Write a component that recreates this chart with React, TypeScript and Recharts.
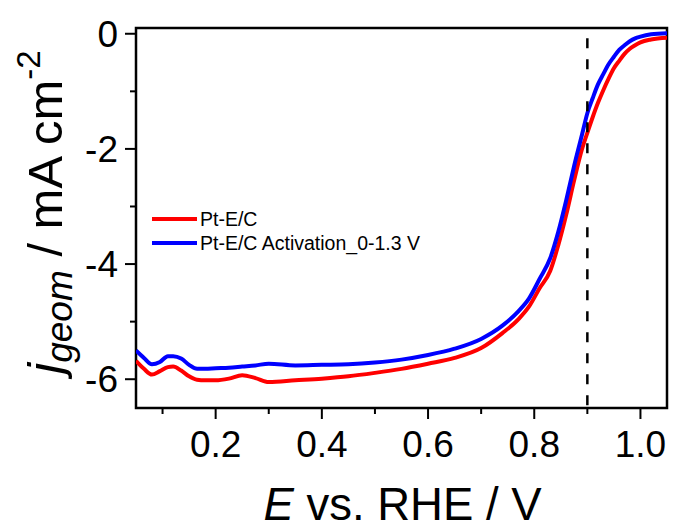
import React from 'react';
import { LineChart, Line, XAxis, YAxis, ReferenceLine, ReferenceArea, Legend } from 'recharts';

const voltage = [0.05, 0.065, 0.08, 0.095, 0.11, 0.12, 0.135, 0.15, 0.165, 0.18, 0.2, 0.225, 0.25, 0.275, 0.3, 0.35, 0.4, 0.45, 0.5, 0.55, 0.6, 0.65, 0.7, 0.74, 0.77, 0.79, 0.81, 0.83, 0.845, 0.86, 0.875, 0.89, 0.9, 0.91, 0.92, 0.93, 0.94, 0.95, 0.96, 0.97, 0.98, 0.99, 1.0, 1.02, 1.05];
const ptEC = [-5.68, -5.82, -5.92, -5.86, -5.79, -5.78, -5.85, -5.95, -6.01, -6.02, -6.02, -5.99, -5.93, -5.98, -6.05, -6.02, -5.99, -5.95, -5.89, -5.82, -5.73, -5.63, -5.46, -5.2, -4.96, -4.74, -4.42, -4.12, -3.68, -3.15, -2.55, -2.0, -1.72, -1.45, -1.2, -0.98, -0.78, -0.6, -0.47, -0.35, -0.26, -0.2, -0.15, -0.1, -0.07];
const ptECAct = [-5.5, -5.63, -5.74, -5.7, -5.6, -5.6, -5.64, -5.75, -5.82, -5.82, -5.81, -5.8, -5.78, -5.76, -5.73, -5.76, -5.75, -5.74, -5.71, -5.66, -5.58, -5.47, -5.3, -5.07, -4.82, -4.6, -4.26, -3.9, -3.45, -2.9, -2.3, -1.75, -1.38, -1.12, -0.88, -0.7, -0.53, -0.4, -0.28, -0.2, -0.13, -0.08, -0.05, -0.01, 0.01];

const xTicks = [0.1, 0.2, 0.3, 0.4, 0.5, 0.6, 0.7, 0.8, 0.9, 1.0];
const xLabelTicks = [0.2, 0.4, 0.6, 0.8, 1.0];
const yTicks = [0, -1, -2, -3, -4, -5, -6];
const yLabelTicks = [0, -2, -4, -6];

const seriesNames = ['Pt-E/C', 'Pt-E/C Activation_0-1.3 V'];
const seriesColors = ['#ff0000', '#0000ff'];

const data = voltage.map((v, i) => ({ v, a: ptEC[i], b: ptECAct[i] }));

const FONT = "Arial, 'Liberation Sans', Helvetica, sans-serif";

const XTick = (props: any) => {
  const { x, y, payload } = props;
  const v = payload.value;
  const major = xLabelTicks.some((t) => Math.abs(t - v) < 1e-6);
  return (
    <g>
      <line x1={x} x2={x} y1={y} y2={y + (major ? 11 : 6)} stroke="#000" strokeWidth={2} />
      {major && (
        <text x={x} y={y + 49} textAnchor="middle" fontSize={37} fill="#000" fontFamily={FONT}>
          {v.toFixed(1)}
        </text>
      )}
    </g>
  );
};

const YTick = (props: any) => {
  const { x, y, payload } = props;
  const v = payload.value;
  const major = yLabelTicks.some((t) => Math.abs(t - v) < 1e-6);
  return (
    <g>
      <line x1={x - (major ? 11 : 6)} x2={x} y1={y} y2={y} stroke="#000" strokeWidth={2} />
      {major && (
        <text x={x - 18} y={y + 13} textAnchor="end" fontSize={37} fill="#000" fontFamily={FONT}>
          {String(v)}
        </text>
      )}
    </g>
  );
};

const XTitle = (props: any) => {
  const vb = props.viewBox || { x: 136, y: 408, width: 531, height: 122 };
  return (
    <text x={vb.x + vb.width / 2 + 1} y={520} textAnchor="middle" fontSize={45.5} fill="#000" fontFamily={FONT}>
      <tspan fontStyle="italic">E</tspan>
      <tspan> vs. RHE / V</tspan>
    </text>
  );
};

const YTitle = (props: any) => {
  const vb = props.viewBox || { x: 0, y: 28, width: 136, height: 380 };
  const cx = 62;
  const cy = vb.y + vb.height / 2 - 6;
  return (
    <text x={cx} y={cy} transform={`rotate(-90, ${cx}, ${cy})`} textAnchor="middle" fontSize={49} fill="#000" fontFamily={FONT}>
      <tspan fontStyle="italic">j</tspan>
      <tspan fontStyle="italic" fontSize={37} dy={10}>geom</tspan>
      <tspan dy={-10}> / mA cm</tspan>
      <tspan fontSize={33} dy={-22}>-2</tspan>
    </text>
  );
};

const LegendContent = () => (
  <div style={{ fontFamily: FONT }}>
    {seriesNames.map((name, i) => (
      <div key={name} style={{ display: 'flex', alignItems: 'center', height: 24 }}>
        <svg width={50} height={24} style={{ display: 'block' }}>
          <line x1={2} x2={47} y1={12} y2={12} stroke={seriesColors[i]} strokeWidth={4} />
        </svg>
        <span style={{ fontSize: 19.5, lineHeight: '24px', color: '#000', whiteSpace: 'nowrap' }}>{name}</span>
      </div>
    ))}
  </div>
);

export default function App() {
  return (
    <div style={{ position: 'absolute', left: 0, top: 0, width: 674, height: 530, background: '#fff' }}>
      <LineChart width={674} height={530} data={data} margin={{ top: 28, right: 7, left: 0, bottom: 0 }}>
        <XAxis
          type="number"
          dataKey="v"
          domain={[0.05, 1.05]}
          ticks={xTicks}
          allowDataOverflow
          height={122}
          axisLine={false}
          tickLine={false}
          tickSize={0}
          tickMargin={0}
          interval={0}
          tick={<XTick />}
          label={{ content: <XTitle /> }}
        />
        <YAxis
          type="number"
          domain={[-6.5, 0.1]}
          ticks={yTicks}
          allowDataOverflow
          width={136}
          axisLine={false}
          tickLine={false}
          tickSize={0}
          tickMargin={0}
          interval={0}
          tick={<YTick />}
          label={{ content: <YTitle /> }}
        />
        <ReferenceArea x1={0.05} x2={1.05} y1={-6.5} y2={0.1} fill="none" stroke="#000" strokeWidth={2.5} ifOverflow="visible" />
        <Line type="monotone" dataKey="a" name={seriesNames[0]} stroke={seriesColors[0]} strokeWidth={4} dot={false} isAnimationActive={false} />
        <Line type="monotone" dataKey="b" name={seriesNames[1]} stroke={seriesColors[1]} strokeWidth={4} dot={false} isAnimationActive={false} />
        <ReferenceLine
          segment={[{ x: 0.9, y: -0.08 }, { x: 0.9, y: -6.5 }]}
          stroke="#000"
          strokeWidth={2.5}
          strokeDasharray="10 11"
          ifOverflow="visible"
        />
        <Legend
          layout="vertical"
          align="center"
          verticalAlign="middle"
          content={<LegendContent />}
          wrapperStyle={{ left: 150, top: 207, width: 'auto', height: 'auto' }}
        />
      </LineChart>
    </div>
  );
}
